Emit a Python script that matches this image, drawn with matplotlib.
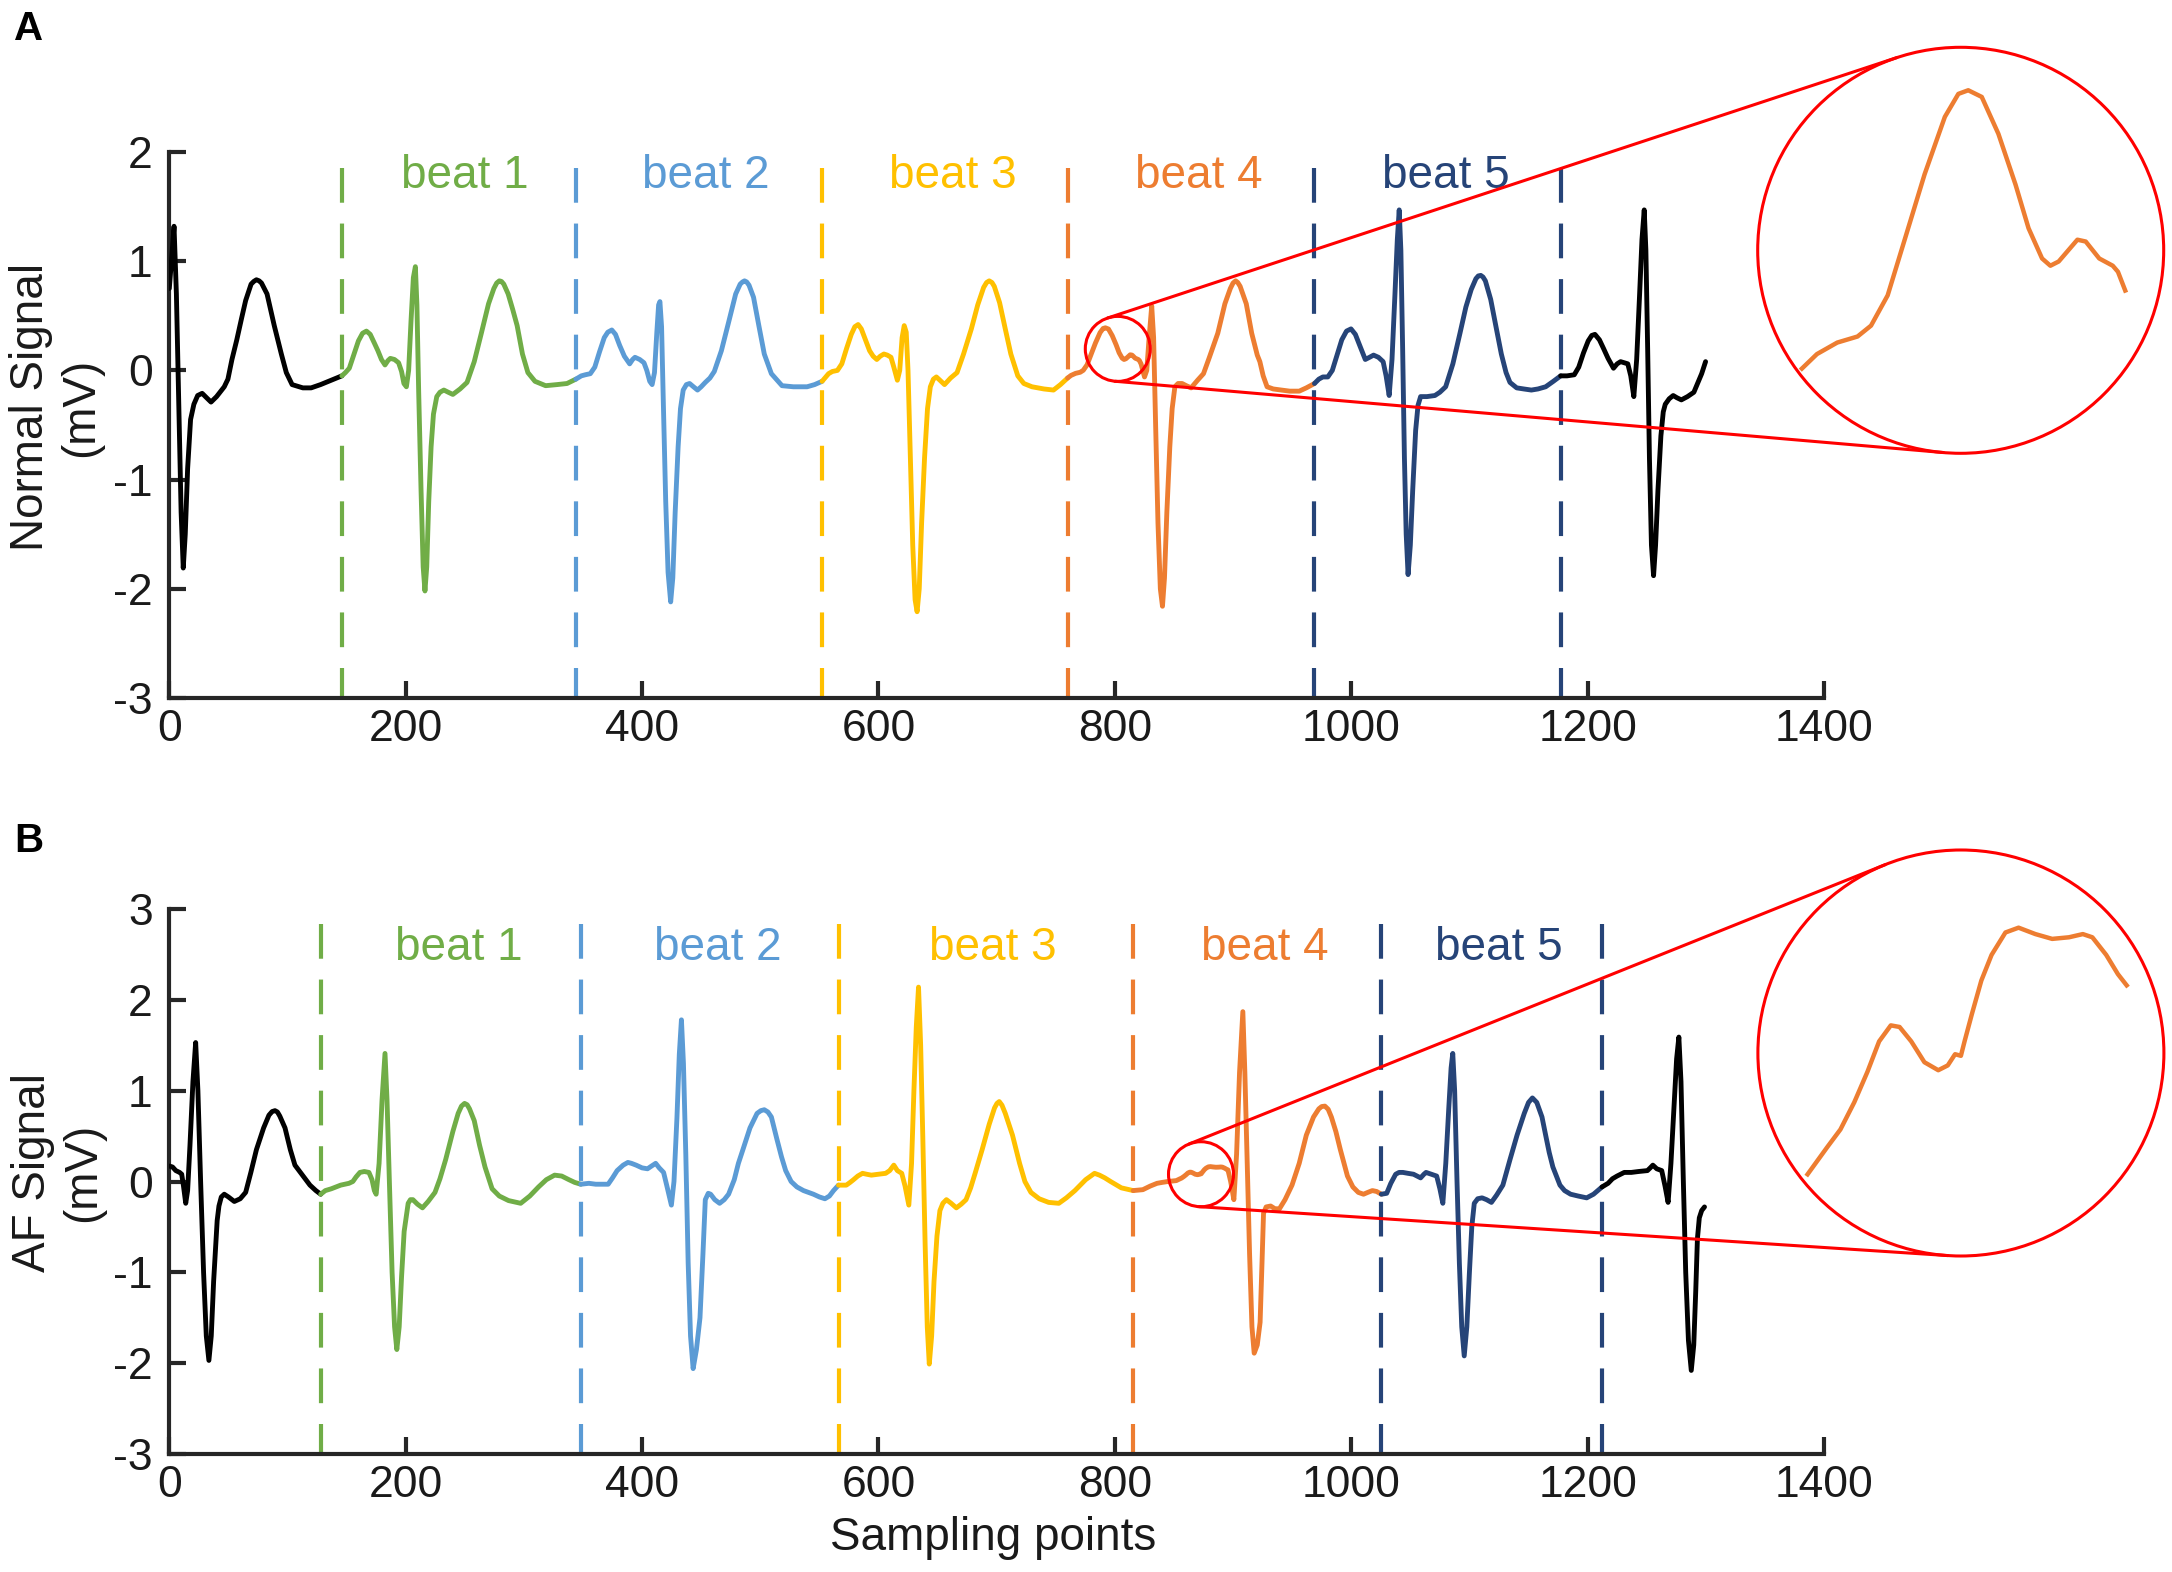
import numpy as np
import matplotlib
matplotlib.use('Agg')
import matplotlib.pyplot as plt
import matplotlib.patches as patches

plt.rcParams['font.family'] = ['Liberation Sans', 'DejaVu Sans']
plt.rcParams['axes.unicode_minus'] = False
plt.rcParams['lines.scale_dashes'] = False

W, H = 2172, 1572

# ---------------- data ----------------
beat_names = ['beat 1', 'beat 2', 'beat 3', 'beat 4', 'beat 5']
seg_colors = ['black', '#70AD47', '#5B9BD5', '#FFC000', '#ED7D31', '#264478', 'black']
dash_colors = ['#70AD47', '#5B9BD5', '#FFC000', '#ED7D31', '#264478', '#264478']

x_ticks = [0, 200, 400, 600, 800, 1000, 1200, 1400]
normal_yticks = [-3, -2, -1, 0, 1, 2]
af_yticks = [-3, -2, -1, 0, 1, 2, 3]

# (sample, mV) points, one block per beat
normal_pts = [
	(0, 0.75), (2.5, 1.1), (4, 1.32), (6, 0.7), (8, -0.3), (10, -1.3), (11.8, -1.81), (13.5, -1.5), (15.5, -0.9),
	(18, -0.45), (20.8, -0.31), (24, -0.23), (27.8, -0.21), (31.5, -0.25), (35.3, -0.29), (40, -0.24), (46.5, -0.15),
	(49.6, -0.08), (53, 0.1), (57.1, 0.28), (61, 0.47), (64.6, 0.64), (69.2, 0.79), (71.5, 0.815), (73.7, 0.83),
	(76, 0.82), (78, 0.8), (82.7, 0.7), (88.8, 0.41), (94.8, 0.15), (99, -0.02), (103.9, -0.13), (113, -0.16),
	(120, -0.16), (128, -0.13), (137, -0.09), (146, -0.05),
	# beat 1
	(149, -0.02), (152.3, 0.02), (156, 0.14), (160, 0.27), (163.5, 0.34), (166.8, 0.36), (170, 0.33), (173.5, 0.25),
	(176.5, 0.18), (179.5, 0.1), (182.5, 0.05), (185, 0.09), (187, 0.11), (190.5, 0.1), (194, 0.07), (196.5, -0.01),
	(198.5, -0.12), (200.6, -0.15), (202.5, 0.0), (204.5, 0.45), (206.5, 0.85), (208.2, 0.95), (209.5, 0.6),
	(211, -0.2), (213, -1.1), (214.8, -1.8), (216.3, -2.02), (217.8, -1.8), (219.5, -1.2), (221.5, -0.7),
	(223.5, -0.4), (226.3, -0.24), (229, -0.2), (232.3, -0.18), (236, -0.2), (239.9, -0.22), (246, -0.17),
	(251.9, -0.11), (258, 0.08), (264, 0.34), (270.1, 0.61), (274.6, 0.75), (277, 0.8), (279.2, 0.82),
	(281, 0.815), (283, 0.79), (286.7, 0.7), (290.5, 0.56), (294.3, 0.41), (298.8, 0.15), (303.4, -0.02),
	(309.4, -0.1), (318.4, -0.14), (328, -0.13), (336.5, -0.12), (344, -0.08),
	# beat 2
	(348.6, -0.05), (352, -0.04), (356.2, -0.03), (360, 0.03), (364, 0.17), (368, 0.3), (371, 0.35), (374.4, 0.37),
	(377.5, 0.33), (381, 0.23), (385, 0.13), (389.5, 0.06), (392, 0.1), (394, 0.12), (398, 0.1), (401.6, 0.07),
	(404, 0.0), (406.5, -0.1), (408.5, -0.13), (410.5, -0.02), (412.5, 0.35), (414, 0.6), (415.1, 0.63),
	(416.5, 0.4), (418, -0.3), (420, -1.2), (422, -1.85), (424.2, -2.12), (426, -1.9), (428, -1.3), (430.5, -0.7),
	(432.5, -0.35), (434.8, -0.18), (437.5, -0.13), (440.2, -0.12), (443.5, -0.15), (446.9, -0.18), (450, -0.15),
	(453.5, -0.11), (457.4, -0.07), (461.1, -0.01), (467.1, 0.18), (473.2, 0.44), (479.2, 0.7), (483, 0.79),
	(485, 0.81), (486.7, 0.82), (488.5, 0.81), (490.5, 0.78), (494.3, 0.67), (498.8, 0.41), (503.4, 0.15),
	(509.4, -0.03), (518.4, -0.14), (528, -0.15), (539.6, -0.15), (546, -0.13), (552.3, -0.1),
	# beat 3
	(557.8, -0.03), (561, -0.01), (565.3, 0.0), (569, 0.06), (573, 0.2), (577, 0.33), (580, 0.4), (582.8, 0.42),
	(585.5, 0.38), (589, 0.28), (592.5, 0.18), (595.5, 0.13), (598.6, 0.1), (601.5, 0.13), (604.6, 0.15),
	(607.5, 0.14), (610.6, 0.12), (613, 0.03), (616, -0.09), (618, 0.0), (620, 0.3), (621.8, 0.41), (623.5, 0.35),
	(625, 0.0), (627, -0.8), (629, -1.6), (631, -2.1), (632.7, -2.21), (634.5, -2.0), (636.5, -1.4), (639, -0.8),
	(641.5, -0.35), (643.9, -0.15), (646.5, -0.08), (649, -0.06), (652, -0.09), (655.9, -0.13), (661, -0.07),
	(666.5, -0.02), (672, 0.15), (678.6, 0.38), (684, 0.6), (689, 0.76), (691.5, 0.805), (693.7, 0.82),
	(696, 0.805), (698, 0.77), (702.5, 0.62), (707.3, 0.38), (712, 0.15), (717.9, -0.05), (723, -0.12),
	(729.9, -0.15), (740, -0.17), (748.1, -0.18), (754, -0.13), (760, -0.07),
	# beat 4
	(762.9, -0.046), (766.8, -0.027), (770.7, -0.017), (773.3, 0.001), (776.5, 0.051), (779.7, 0.141),
	(783.6, 0.251), (787.5, 0.346), (790.1, 0.384), (792, 0.39), (794.6, 0.379), (797.8, 0.318), (801.1, 0.234),
	(803.6, 0.162), (806.2, 0.112), (807.8, 0.1), (809.4, 0.107), (813, 0.143), (814.6, 0.14), (817.2, 0.112),
	(819.8, 0.1), (820.8, 0.09), (822.2, 0.059), (825.1, -0.06), (827, 0.0), (829, 0.3), (831.2, 0.59),
	(832.8, 0.3), (834.5, -0.5), (836.5, -1.4), (838.5, -2.0), (840.3, -2.16), (842, -1.9), (844, -1.3),
	(846.5, -0.7), (848.5, -0.35), (850.8, -0.15), (853.5, -0.12), (856.9, -0.12), (860.5, -0.14), (864.5, -0.16),
	(870, -0.09), (875, -0.03), (880, 0.12), (887.1, 0.34), (893.1, 0.61), (897.7, 0.75), (900, 0.8),
	(902.2, 0.82), (904, 0.805), (906, 0.77), (911.2, 0.61), (915.8, 0.34), (920.5, 0.14), (922.7, 0.08),
	(925.5, -0.05), (928.8, -0.15), (934, -0.17), (940.9, -0.18), (948, -0.19), (956, -0.19), (962, -0.16),
	(968.9, -0.12),
	# beat 5
	(972.6, -0.08), (976, -0.06), (980.2, -0.06), (984, 0.0), (988, 0.14), (992, 0.28), (996, 0.36), (999.8, 0.38),
	(1003.5, 0.33), (1007.5, 0.22), (1011.9, 0.1), (1015.5, 0.12), (1018.9, 0.14), (1023, 0.12), (1027, 0.08),
	(1029.5, -0.05), (1032.1, -0.23), (1034.5, 0.1), (1037, 0.7), (1039, 1.2), (1040.6, 1.47), (1042, 1.1),
	(1043.5, 0.2), (1045, -0.8), (1046.5, -1.5), (1048.1, -1.87), (1050, -1.6), (1052, -1.1), (1054.5, -0.55),
	(1056.5, -0.32), (1058.7, -0.24), (1064, -0.24), (1070.8, -0.23), (1075, -0.2), (1079.9, -0.15), (1086, 0.06),
	(1092, 0.34), (1097, 0.58), (1101.5, 0.74), (1105.5, 0.84), (1107.5, 0.865), (1109.6, 0.87), (1111.5, 0.855),
	(1113.5, 0.82), (1118, 0.65), (1122.3, 0.41), (1127, 0.15), (1131, -0.02), (1134.3, -0.11), (1140, -0.16),
	(1146, -0.17), (1152.4, -0.18), (1158, -0.17), (1164.5, -0.15), (1171, -0.1), (1177.2, -0.05),
	# tail
	(1182.6, -0.05), (1188.7, -0.04), (1192.5, 0.03), (1196.5, 0.16), (1200.5, 0.27), (1203.5, 0.32),
	(1206.2, 0.33), (1210, 0.28), (1213.5, 0.2), (1217.3, 0.11), (1221.9, 0.02), (1225, 0.06), (1227.9, 0.08),
	(1231, 0.07), (1234, 0.06), (1236.5, -0.05), (1239.1, -0.24), (1241.5, 0.1), (1244, 0.7), (1246, 1.2),
	(1247.9, 1.47), (1249.3, 1.1), (1250.8, 0.2), (1252.3, -0.8), (1254, -1.6), (1255.8, -1.88), (1257.5, -1.6),
	(1259.5, -1.1), (1262, -0.6), (1264, -0.38), (1265.7, -0.31), (1269, -0.26), (1272.4, -0.23), (1275.5, -0.25),
	(1279.3, -0.27), (1284.5, -0.24), (1289.9, -0.2), (1293, -0.12), (1296.5, -0.03), (1299.8, 0.08),
]
normal_bounds = [146, 344, 552.3, 760, 968.9, 1177.2]
normal_label_x = [250, 454, 663, 871, 1080]

af_pts = [
	(0, 0.17), (2.7, 0.16), (5.5, 0.12), (8.7, 0.1), (10.5, 0.08), (12, -0.05), (13.9, -0.24), (15.5, -0.1),
	(17.5, 0.4), (20, 1.1), (22.3, 1.53), (24.2, 1.0), (26.5, 0.0), (29, -1.0), (31.3, -1.7), (33.5, -1.97),
	(35.5, -1.7), (37.5, -1.1), (40.5, -0.43), (42, -0.27), (44, -0.17), (46.5, -0.14), (50, -0.17), (55, -0.22),
	(60, -0.19), (64.6, -0.12), (69, 0.1), (73.7, 0.35), (79.8, 0.59), (84.3, 0.73), (87, 0.77), (89.4, 0.78),
	(91.5, 0.765), (93.5, 0.72), (97.9, 0.59), (102.4, 0.35), (106.3, 0.18), (111.5, 0.09), (119, -0.04),
	(124, -0.1), (128.1, -0.14),
	# beat 1
	(132, -0.1), (137.1, -0.08), (145, -0.04), (152, -0.02), (155.3, 0.0), (158, 0.05), (161.3, 0.1), (165, 0.11),
	(168.9, 0.1), (171.5, 0.02), (173.5, -0.1), (175, -0.14), (177.5, 0.2), (180, 0.9), (182.5, 1.41), (184.2, 0.9),
	(186.2, 0.0), (188.5, -1.0), (190.6, -1.6), (192.5, -1.85), (194.5, -1.6), (196.5, -1.05), (198.7, -0.55),
	(202.1, -0.24), (204, -0.2), (206.1, -0.2), (210, -0.25), (214.2, -0.29), (219, -0.22), (224.8, -0.12),
	(229, 0.03), (233.8, 0.24), (239.9, 0.55), (244.4, 0.75), (247.2, 0.83), (249.8, 0.86), (252, 0.845),
	(254, 0.8), (258, 0.67), (262.5, 0.4), (267.1, 0.16), (273.1, -0.08), (279.2, -0.16), (287, -0.21),
	(297.3, -0.24), (305, -0.16), (312.4, -0.06), (319, 0.02), (326, 0.07), (332, 0.06), (338.1, 0.02),
	(343, -0.01), (348.1, -0.03),
	# beat 2
	(355, -0.02), (360.8, -0.03), (366, -0.03), (371.3, -0.03), (375, 0.04), (378.9, 0.12), (384, 0.18), (388, 0.21),
	(391, 0.2), (395, 0.18), (400, 0.15), (404.6, 0.14), (408, 0.17), (411.5, 0.2), (414.5, 0.15), (418.2, 0.1),
	(421, -0.05), (424.8, -0.26), (427, 0.0), (429.5, 0.7), (431.5, 1.4), (433.3, 1.78), (435, 1.3), (437, 0.3),
	(439, -0.9), (441, -1.7), (443.2, -2.06), (446, -1.85), (449, -1.5), (451.5, -0.8), (453.5, -0.2),
	(456, -0.13), (458, -0.14), (461.5, -0.2), (465.6, -0.24), (469.5, -0.2), (473.2, -0.14), (478, 0.02),
	(481.5, 0.2), (485.3, 0.35), (491.3, 0.59), (497.3, 0.75), (500.5, 0.78), (503.4, 0.79), (506.5, 0.765),
	(509.4, 0.71), (514, 0.47), (518, 0.27), (521.5, 0.12), (526.1, 0.0), (531, -0.06), (536.6, -0.1),
	(545, -0.14), (550, -0.17), (554.7, -0.19), (558.5, -0.16), (562, -0.1), (566.2, -0.04),
	# beat 3
	(570, -0.04), (572.8, -0.04), (576, -0.01), (578.9, 0.02), (582.5, 0.06), (586.5, 0.09), (590, 0.08),
	(594, 0.07), (600, 0.08), (606.1, 0.09), (609.5, 0.12), (613, 0.18), (616, 0.12), (619.7, 0.09),
	(622.5, -0.05), (625.7, -0.26), (628, 0.2), (630, 1.0), (632, 1.7), (633.9, 2.14), (635.7, 1.5), (637.5, 0.5),
	(639.5, -0.7), (641.3, -1.6), (643, -2.01), (645, -1.7), (647, -1.1), (649.5, -0.6), (652, -0.32),
	(654.5, -0.24), (657.5, -0.2), (661.5, -0.24), (665.9, -0.29), (670, -0.25), (674.1, -0.2), (678, -0.07),
	(682, 0.1), (687.7, 0.35), (693.7, 0.63), (698.2, 0.81), (700.3, 0.86), (702.2, 0.88), (704.5, 0.84),
	(707.3, 0.75), (713.4, 0.51), (719.4, 0.2), (723.9, 0.0), (729, -0.12), (736, -0.19), (744, -0.23),
	(752.6, -0.24), (759, -0.18), (766.2, -0.1), (775.3, 0.02), (782.8, 0.09), (787, 0.07), (791.5, 0.04),
	(796.4, 0.0), (805.5, -0.07), (815.5, -0.1),
	# beat 4
	(823.7, -0.09), (830, -0.05), (835.7, -0.02), (840, -0.01), (845, 0.0), (848.5, 0.005), (852, 0.01),
	(854.7, 0.027), (856.5, 0.038), (858.4, 0.055), (860.2, 0.074), (861.8, 0.093), (863.4, 0.103),
	(864.6, 0.102), (866.2, 0.093), (868, 0.08), (869.9, 0.075), (871.2, 0.078), (872.2, 0.085), (873, 0.084),
	(873.5, 0.093), (874.5, 0.11), (875.8, 0.131), (877.2, 0.147), (879.1, 0.161), (880.9, 0.164), (883.2, 0.16),
	(885.5, 0.157), (887.8, 0.158), (889.7, 0.16), (891, 0.158), (892.9, 0.147), (894.5, 0.135), (895.7, 0.128),
	(898, 0.0), (900.7, -0.2), (903, 0.3), (905.5, 1.2), (908.3, 1.87), (910, 1.2), (912, 0.2), (914, -0.8),
	(916, -1.6), (917.9, -1.89), (920.5, -1.8), (922.9, -1.55), (924.5, -0.9), (925.8, -0.35), (928, -0.28),
	(931.8, -0.27), (935.5, -0.3), (939.3, -0.3), (944, -0.2), (949.9, -0.04), (956, 0.2), (962, 0.51),
	(968.1, 0.71), (972.6, 0.8), (975, 0.825), (977.7, 0.83), (980.5, 0.795), (983.2, 0.71), (987, 0.55),
	(990.8, 0.35), (996.8, 0.06), (1001.4, -0.06), (1006, -0.12), (1010.4, -0.14), (1014, -0.12),
	(1017.9, -0.1), (1021.5, -0.11), (1025.5, -0.14),
	# beat 5
	(1030, -0.13), (1033.5, -0.02), (1037.6, 0.08), (1040.5, 0.1), (1043.7, 0.1), (1048, 0.09), (1052.7, 0.08),
	(1058.7, 0.04), (1061.5, 0.08), (1063.3, 0.1), (1065.5, 0.09), (1067.8, 0.08), (1070, 0.07), (1072.3, 0.06),
	(1075, -0.08), (1077.5, -0.24), (1080, 0.2), (1082.5, 0.8), (1084.5, 1.25), (1085.9, 1.41), (1087.5, 1.0),
	(1089.5, 0.0), (1091.5, -0.9), (1093.5, -1.6), (1095.6, -1.92), (1097.8, -1.6), (1100, -1.0), (1102, -0.5),
	(1104.1, -0.24), (1107, -0.19), (1110.7, -0.18), (1114.5, -0.2), (1118.6, -0.23), (1123, -0.15),
	(1128.3, -0.04), (1134.3, 0.24), (1140.3, 0.51), (1146.4, 0.75), (1150, 0.87), (1153.3, 0.92), (1157, 0.87),
	(1161.4, 0.71), (1164.5, 0.51), (1167.5, 0.32), (1170.6, 0.16), (1176.6, -0.04), (1180.5, -0.1),
	(1185.6, -0.14), (1192, -0.16), (1199.2, -0.18), (1205, -0.14), (1212.2, -0.06),
	# tail
	(1217.3, -0.02), (1221, 0.03), (1224.9, 0.06), (1231, 0.1), (1237, 0.1), (1243.1, 0.11), (1250.6, 0.12),
	(1253, 0.15), (1255.2, 0.18), (1258.5, 0.14), (1262.7, 0.12), (1265.5, -0.05), (1268.1, -0.23), (1270.5, 0.2),
	(1273, 0.8), (1275.3, 1.35), (1277.2, 1.59), (1279, 1.1), (1281, 0.0), (1283, -1.0), (1285.3, -1.75),
	(1287.7, -2.08), (1289.8, -1.8), (1291.5, -1.2), (1292.9, -0.63), (1294.5, -0.4), (1296.5, -0.32),
	(1298.9, -0.28),
]
af_bounds = [128.1, 348.1, 566.2, 815.5, 1025.5, 1212.2]
af_label_x = [245, 464, 697, 927, 1125]

# part of beat 4 that is blown up in the circles
normal_zoom_range = (759, 822.2)
af_zoom_range = (852, 895.7)


# ---------------- layout (pixels, top-left origin) ----------------
AX_LEFT, AX_RIGHT = 169.3, 1824
A_TOP, A_BOT = 152, 698
B_TOP, B_BOT = 909, 1454

SIG_LW = 3.5
RED = '#FF0000'
INK = '#1a1a1a'


def fig_rect(x0, x1, top, bot):
	return [x0 / W, 1 - bot / H, (x1 - x0) / W, (bot - top) / H]


def style_axes(ax, ylim, yticks):
	ax.set_xlim(0, 1400)
	ax.set_ylim(*ylim)
	ax.set_xticks(x_ticks)
	ax.set_yticks(yticks)
	for s in ['top', 'right']:
		ax.spines[s].set_visible(False)
	for s in ['left', 'bottom']:
		ax.spines[s].set_linewidth(3)
		ax.spines[s].set_color('#262626')
	ax.tick_params(direction='in', length=12, width=3, color='#262626', labelsize=32, labelcolor=INK)
	ax.tick_params(axis='x', pad=8)
	ax.tick_params(axis='y', pad=12)
	ax.patch.set_alpha(0)


def draw_panel(ax, pts, bounds, label_x, label_y, dash_top, ylim):
	x = np.array([p[0] for p in pts])
	y = np.array([p[1] for p in pts])
	edges = [x[0]] + list(bounds) + [x[-1]]
	for i in range(len(edges) - 1):
		m = (x >= edges[i]) & (x <= edges[i + 1])
		ax.plot(x[m], y[m], color=seg_colors[i], lw=SIG_LW, solid_joinstyle='round',
			solid_capstyle='round', zorder=3)
	# beat boundaries
	for i, b in enumerate(bounds):
		ax.plot([b, b], [dash_top, ylim[0]], color=dash_colors[i], lw=3.0,
			linestyle=(0, (25, 15)), zorder=2, clip_on=False)
	for i, lx in enumerate(label_x):
		ax.text(lx, label_y, beat_names[i], color=seg_colors[i + 1], fontsize=33,
			ha='center', va='baseline')
	return x, y


def tangents(c1, r1, c2, r2):
	# outer tangent lines of two circles, returned as point pairs
	d = np.array(c2) - np.array(c1)
	D = np.hypot(*d)
	u = d / D
	up = np.array([-u[1], u[0]])
	ct = (r1 - r2) / D
	st = np.sqrt(1 - ct ** 2)
	res = []
	for sgn in (1, -1):
		n = ct * u + sgn * st * up
		res.append((np.array(c1) + r1 * n, np.array(c2) + r2 * n))
	return res


def draw_zoom(fig, ov, ax, x, y, xr, small_c, big_c, r_small, r_big, xlim, ylim):
	# small circle around the data point
	px, py = ax.transData.transform(small_c)
	sc = (px, H - py)
	ov.add_patch(patches.Circle(sc, r_small, fill=False, ec=RED, lw=2.2))
	ov.add_patch(patches.Circle(big_c, r_big, fill=False, ec=RED, lw=2.2))
	for p1, p2 in tangents(sc, r_small, big_c, r_big):
		ov.plot([p1[0], p2[0]], [p1[1], p2[1]], color=RED, lw=2.2, solid_capstyle='round')

	ins = fig.add_axes(fig_rect(big_c[0] - r_big, big_c[0] + r_big, big_c[1] - r_big, big_c[1] + r_big), zorder=5)
	ins.set_xlim(*xlim)
	ins.set_ylim(*ylim)
	ins.axis('off')
	m = (x >= xr[0]) & (x <= xr[1])
	ln, = ins.plot(x[m], y[m], color=seg_colors[4], lw=3.2, solid_joinstyle='round')
	clip = patches.Circle((0.5, 0.5), 0.5, transform=ins.transAxes)
	ln.set_clip_path(clip)


fig = plt.figure(figsize=(W / 100, H / 100), dpi=100)

axA = fig.add_axes(fig_rect(AX_LEFT, AX_RIGHT, A_TOP, A_BOT))
style_axes(axA, (-3, 2), normal_yticks)
nx, ny = draw_panel(axA, normal_pts, normal_bounds, normal_label_x, 1.67, 1.85, (-3, 2))

axB = fig.add_axes(fig_rect(AX_LEFT, AX_RIGHT, B_TOP, B_BOT))
style_axes(axB, (-3, 3), af_yticks)
bx, by = draw_panel(axB, af_pts, af_bounds, af_label_x, 2.44, 2.83, (-3, 3))

# overlay in pixel coordinates for the zoom circles and texts
ov = fig.add_axes([0, 0, 1, 1], zorder=10)
ov.set_xlim(0, W)
ov.set_ylim(H, 0)
ov.axis('off')
ov.patch.set_visible(False)

draw_zoom(fig, ov, axA, nx, ny, normal_zoom_range, (802.5, 0.197), (1960.7, 250.3), 32.5, 203,
	(751.5, 829.6), (-0.210, 0.461))
draw_zoom(fig, ov, axB, bx, by, af_zoom_range, (872.9, 0.08), (1960.9, 1053), 32.5, 203,
	(845.2, 900.8), (-0.041, 0.2125))

ov.text(56, 407, 'Normal Signal\n(mV)', rotation=90, ha='center', va='center', multialignment='center',
	fontsize=33, color=INK)
ov.text(58, 1172, 'AF Signal\n(mV)', rotation=90, ha='center', va='center', multialignment='center',
	fontsize=33, color=INK)
ov.text(993, 1538, 'Sampling points', ha='center', va='center', fontsize=33, color=INK)
ov.text(14, 10, 'A', ha='left', va='top', fontsize=29, fontweight='bold', color='black')
ov.text(14, 822, 'B', ha='left', va='top', fontsize=29, fontweight='bold', color='black')

fig.savefig('out.png', dpi=100)
